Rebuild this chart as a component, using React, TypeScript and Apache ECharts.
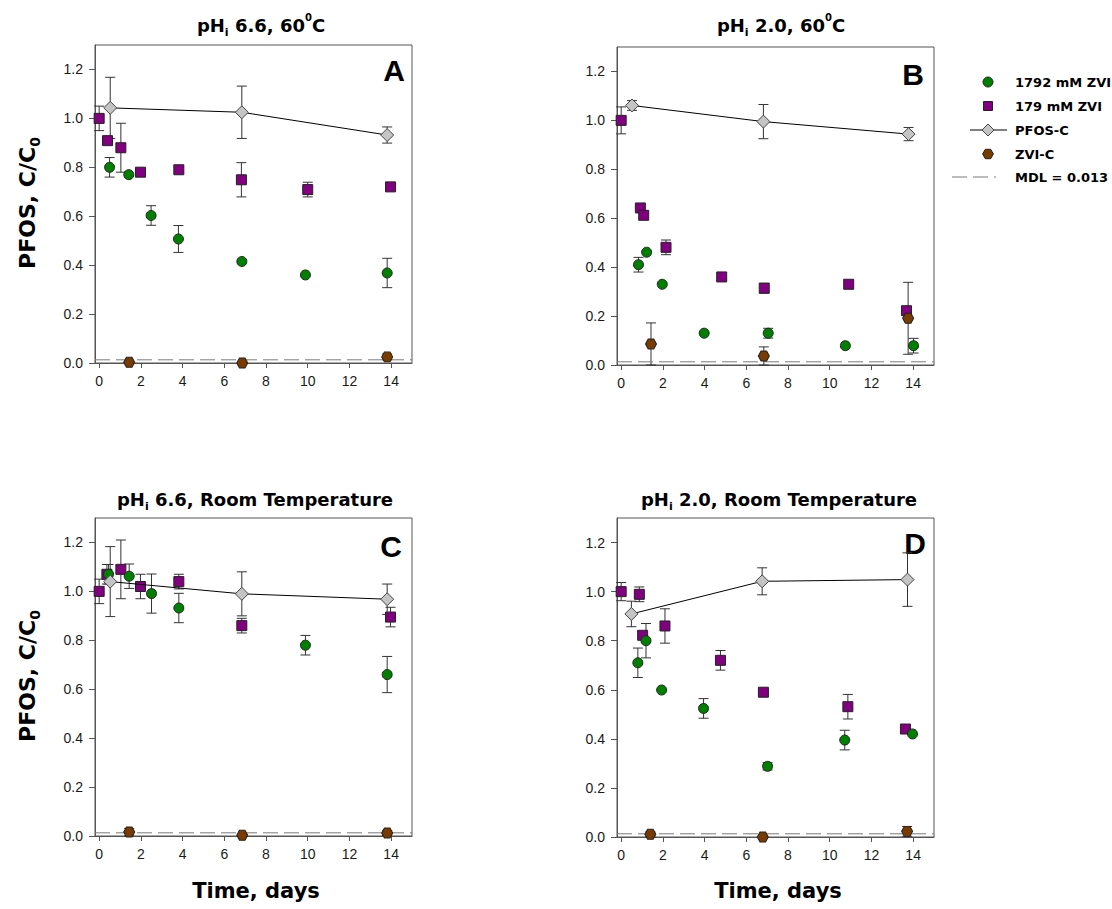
import React, { useEffect, useRef } from "react";
import * as echarts from "echarts";

// ---------- data: [time (days), C/C0, error] ----------
const A_1792 = [[0.5, 0.80, 0.04], [1.42, 0.77, 0], [2.49, 0.603, 0.04], [3.8, 0.507, 0.055], [6.84, 0.415, 0], [9.89, 0.36, 0], [13.81, 0.368, 0.06]];
const A_179 = [[0, 1.0, 0.05], [0.4, 0.909, 0], [1.04, 0.88, 0.1], [1.98, 0.78, 0], [3.82, 0.79, 0.01], [6.82, 0.749, 0.07], [10.0, 0.709, 0.03], [13.97, 0.72, 0]];
const A_PFOSC = [[0.53, 1.043, 0.125], [6.84, 1.025, 0.107], [13.81, 0.932, 0.033]];
const A_ZVIC = [[1.44, 0.003, 0], [6.86, 0.0, 0], [13.81, 0.025, 0.012]];

const B_1792 = [[0.83, 0.41, 0.03], [1.22, 0.461, 0], [1.97, 0.33, 0], [3.98, 0.13, 0], [7.05, 0.13, 0.02], [10.75, 0.079, 0], [14.02, 0.079, 0.03]];
const B_179 = [[0, 1.0, 0.055], [0.92, 0.642, 0], [1.08, 0.612, 0], [2.15, 0.481, 0.03], [4.82, 0.36, 0], [6.86, 0.314, 0.02], [10.91, 0.33, 0], [13.68, 0.222, 0]];
const B_PFOSC = [[0.52, 1.061, 0.02], [6.82, 0.995, 0.07], [13.78, 0.944, 0.027]];
const B_ZVIC = [[1.43, 0.086, 0.086], [6.84, 0.037, 0.037], [13.76, 0.191, 0.147]];

const C_1792 = [[0.45, 1.07, 0.04], [1.44, 1.062, 0.05], [2.51, 0.991, 0.08], [3.82, 0.932, 0.06], [9.89, 0.78, 0.04], [13.81, 0.66, 0.074]];
const C_179 = [[0, 1.0, 0.05], [0.37, 1.07, 0.04], [1.04, 1.09, 0.12], [1.98, 1.02, 0.05], [3.82, 1.04, 0.03], [6.84, 0.86, 0.03], [13.97, 0.895, 0.04]];
const C_PFOSC = [[0.53, 1.04, 0.143], [6.84, 0.99, 0.09], [13.81, 0.968, 0.062]];
const C_ZVIC = [[1.44, 0.016, 0.015], [6.86, 0.003, 0], [13.81, 0.012, 0.01]];

const D_1792 = [[0.8, 0.71, 0.06], [1.19, 0.80, 0.07], [1.94, 0.599, 0], [3.95, 0.524, 0.04], [7.02, 0.288, 0.015], [10.72, 0.395, 0.04], [13.97, 0.42, 0]];
const D_179 = [[0, 1.0, 0.037], [0.87, 0.989, 0.03], [1.03, 0.822, 0], [2.1, 0.86, 0.07], [4.76, 0.72, 0.04], [6.82, 0.59, 0.015], [10.87, 0.531, 0.05], [13.63, 0.44, 0]];
const D_PFOSC = [[0.49, 0.909, 0.052], [6.76, 1.042, 0.055], [13.73, 1.049, 0.109]];
const D_ZVIC = [[1.4, 0.011, 0.01], [6.79, 0.0, 0], [13.71, 0.023, 0.02]];

const MDL = 0.013;
const X_TICKS = [0, 2, 4, 6, 8, 10, 12, 14];
const Y_TICKS = [0, 0.2, 0.4, 0.6, 0.8, 1.0, 1.2];
const X_RANGE = [-0.2, 15];
const Y_RANGE = [0, 1.3];

const PANEL_LETTERS = ["A", "B", "C", "D"];
const PANEL_PH = ["6.6", "2.0", "6.6", "2.0"];
const PANEL_TEMP = ["60", "60", "Room Temperature", "Room Temperature"];
const LEGEND_LABELS = ["1792 mM ZVI", "179 mM ZVI", "PFOS-C", "ZVI-C", "MDL = 0.013"];
const X_TITLE = "Time, days";

const PANELS = [
  { g: A_1792, p: A_179, c: A_PFOSC, z: A_ZVIC },
  { g: B_1792, p: B_179, c: B_PFOSC, z: B_ZVIC },
  { g: C_1792, p: C_179, c: C_PFOSC, z: C_ZVIC },
  { g: D_1792, p: D_179, c: D_PFOSC, z: D_ZVIC },
];

// ---------- layout ----------
const GRIDS = [
  { left: 95, top: 45, width: 317, height: 318 },
  { left: 617, top: 47, width: 317, height: 318 },
  { left: 95, top: 518, width: 317, height: 318 },
  { left: 617, top: 518, width: 317, height: 319 },
];
const TITLE_POS = [[261, 25], [781, 25], [255, 499], [779, 499]];
const LETTER_POS = [[394, 70], [913, 74], [391, 546], [915, 543]];
const YTITLE_POS = [[27, 203], [27, 676]];
const XTITLE_POS = [[256, 891], [778, 891]];

const GREEN = "#008000";
const PURPLE = "#800080";
const BROWN = "#7a3b00";
const GRAY = "#c4c4c4";
const EDGE = "#222";
const BOLD_FONT = "DejaVu Sans";
const TICK_FONT = "Liberation Sans, Arial";
const HEX = "path://M2.5,0 L7.5,0 L10,4.33 L7.5,8.66 L2.5,8.66 L0,4.33 Z";

function errRender(params: any, api: any) {
  const x = api.value(0);
  const y = api.value(1);
  const e = api.value(2);
  const top = api.coord([x, y + e]);
  const bot = api.coord([x, y - e]);
  const w = 5;
  const st = { stroke: "#333", lineWidth: 1 };
  return {
    type: "group",
    children: [
      { type: "line", shape: { x1: top[0], y1: top[1], x2: bot[0], y2: bot[1] }, style: st },
      { type: "line", shape: { x1: top[0] - w, y1: top[1], x2: top[0] + w, y2: top[1] }, style: st },
      { type: "line", shape: { x1: bot[0] - w, y1: bot[1], x2: bot[0] + w, y2: bot[1] }, style: st },
    ],
  };
}

function buildOption() {
  const series: any[] = [];
  PANELS.forEach((pn, i) => {
    const errs = [...pn.g, ...pn.p, ...pn.c, ...pn.z].filter((d) => d[2] > 0);
    series.push({
      type: "custom",
      xAxisIndex: i,
      yAxisIndex: i,
      renderItem: errRender,
      data: errs,
      z: 1,
      silent: true,
    });
    series.push({
      type: "line",
      xAxisIndex: i,
      yAxisIndex: i,
      data: [[X_RANGE[0], MDL], [X_RANGE[1], MDL]],
      symbol: "none",
      lineStyle: { color: "#7a7a7a", width: 1, type: [15, 6] },
      z: 1,
      silent: true,
    });
    series.push({
      name: "179 mM ZVI",
      type: "scatter",
      xAxisIndex: i,
      yAxisIndex: i,
      symbol: "rect",
      symbolSize: 10,
      data: pn.p.map((d) => [d[0], d[1]]),
      itemStyle: { color: PURPLE, borderColor: EDGE, borderWidth: 1, opacity: 1 },
      z: 3,
    });
    series.push({
      name: "1792 mM ZVI",
      type: "scatter",
      xAxisIndex: i,
      yAxisIndex: i,
      symbol: "circle",
      symbolSize: 10,
      data: pn.g.map((d) => [d[0], d[1]]),
      itemStyle: { color: GREEN, borderColor: EDGE, borderWidth: 1, opacity: 1 },
      z: 4,
    });
    series.push({
      name: "PFOS-C",
      type: "line",
      xAxisIndex: i,
      yAxisIndex: i,
      symbol: "diamond",
      symbolSize: 13,
      showAllSymbol: true,
      data: pn.c.map((d) => [d[0], d[1]]),
      lineStyle: { color: "#000", width: 1 },
      itemStyle: { color: GRAY, borderColor: "#444", borderWidth: 1 },
      z: 5,
    });
    series.push({
      name: "ZVI-C",
      type: "scatter",
      xAxisIndex: i,
      yAxisIndex: i,
      symbol: HEX,
      symbolSize: [11, 10],
      data: pn.z.map((d) => [d[0], d[1]]),
      itemStyle: { color: BROWN, borderColor: EDGE, borderWidth: 1, opacity: 1 },
      z: 6,
    });
  });

  const axisColor = "#555";
  const xAxis = GRIDS.map((_, i) => ({
    type: "value",
    gridIndex: i,
    min: X_RANGE[0],
    max: X_RANGE[1],
    axisLine: { show: true, onZero: false, lineStyle: { color: axisColor, width: 1 } },
    axisTick: { show: true, length: 5, customValues: X_TICKS, lineStyle: { color: axisColor } },
    axisLabel: { customValues: X_TICKS, fontSize: 14, color: "#1a1a1a", margin: 11, fontFamily: TICK_FONT },
    splitLine: { show: false },
  }));
  const yAxis = GRIDS.map((_, i) => ({
    type: "value",
    gridIndex: i,
    min: Y_RANGE[0],
    max: Y_RANGE[1],
    axisLine: { show: true, onZero: false, lineStyle: { color: axisColor, width: 1 } },
    axisTick: { show: true, length: 6, customValues: Y_TICKS, lineStyle: { color: axisColor } },
    axisLabel: {
      customValues: Y_TICKS,
      fontSize: 14,
      color: "#1a1a1a",
      margin: 12,
      fontFamily: TICK_FONT,
      formatter: (v: number) => v.toFixed(1),
    },
    splitLine: { show: false },
  }));

  const richTitle = {
    b: { fontSize: 18, fontWeight: "bold", fontFamily: BOLD_FONT, lineHeight: 26, color: "#000" },
    s: { fontSize: 11, fontWeight: "bold", fontFamily: BOLD_FONT, lineHeight: 12, verticalAlign: "bottom", color: "#000" },
    p: { fontSize: 10, fontWeight: "bold", fontFamily: BOLD_FONT, lineHeight: 17, verticalAlign: "top", color: "#000" },
  };

  const graphic: any[] = [];
  PANEL_LETTERS.forEach((L, i) => {
    const temp = PANEL_TEMP[i];
    const text =
      temp === "60"
        ? `{b|pH}{s|i}{b| ${PANEL_PH[i]}, 60}{p|0}{b|C}`
        : `{b|pH}{s|i}{b| ${PANEL_PH[i]}, ${temp}}`;
    graphic.push({
      type: "text",
      x: TITLE_POS[i][0],
      y: TITLE_POS[i][1],
      style: { text, rich: richTitle, align: "center", verticalAlign: "middle" },
    });
    graphic.push({
      type: "text",
      x: LETTER_POS[i][0],
      y: LETTER_POS[i][1],
      style: {
        text: L,
        fill: "#000",
        font: `bold 30px ${TICK_FONT}`,
        align: "center",
        verticalAlign: "middle",
      },
    });
  });

  const richAxis = {
    b: { fontSize: 22, fontWeight: "bold", fontFamily: BOLD_FONT, lineHeight: 30, color: "#000" },
    s: { fontSize: 14, fontWeight: "bold", fontFamily: BOLD_FONT, lineHeight: 14, verticalAlign: "bottom", color: "#000" },
  };
  YTITLE_POS.forEach((p) => {
    graphic.push({
      type: "text",
      x: p[0],
      y: p[1],
      rotation: Math.PI / 2,
      style: { text: "{b|PFOS, C/C}{s|0}", rich: richAxis, align: "center", verticalAlign: "middle" },
    });
  });
  XTITLE_POS.forEach((p) => {
    graphic.push({
      type: "text",
      x: p[0],
      y: p[1],
      style: {
        text: X_TITLE,
        fill: "#000",
        font: `bold 21px ${BOLD_FONT}`,
        align: "center",
        verticalAlign: "middle",
      },
    });
  });

  // legend
  const lx = 988;
  const tx = 1015;
  const rows = [82, 106, 130, 154, 177];
  const lfont = `bold 13px ${BOLD_FONT}`;
  LEGEND_LABELS.forEach((lab, k) => {
    graphic.push({
      type: "text",
      x: tx,
      y: rows[k],
      style: { text: lab, fill: "#000", font: lfont, align: "left", verticalAlign: "middle" },
    });
  });
  graphic.push({
    type: "circle",
    shape: { cx: lx, cy: rows[0], r: 5 },
    style: { fill: GREEN, stroke: EDGE, lineWidth: 1 },
  });
  graphic.push({
    type: "rect",
    shape: { x: lx - 4.5, y: rows[1] - 4.5, width: 9, height: 9 },
    style: { fill: PURPLE, stroke: EDGE, lineWidth: 1 },
  });
  graphic.push({
    type: "line",
    shape: { x1: 970, y1: rows[2], x2: 1007, y2: rows[2] },
    style: { stroke: "#000", lineWidth: 1 },
  });
  graphic.push({
    type: "polygon",
    shape: { points: [[lx, rows[2] - 6], [lx + 6, rows[2]], [lx, rows[2] + 6], [lx - 6, rows[2]]] },
    style: { fill: GRAY, stroke: "#444", lineWidth: 1 },
  });
  graphic.push({
    type: "polygon",
    shape: {
      points: [
        [lx - 2.7, rows[3] - 4.7],
        [lx + 2.7, rows[3] - 4.7],
        [lx + 5.4, rows[3]],
        [lx + 2.7, rows[3] + 4.7],
        [lx - 2.7, rows[3] + 4.7],
        [lx - 5.4, rows[3]],
      ],
    },
    style: { fill: BROWN, stroke: EDGE, lineWidth: 1 },
  });
  graphic.push({
    type: "line",
    shape: { x1: 952, y1: rows[4], x2: 996, y2: rows[4] },
    style: { stroke: "#7a7a7a", lineWidth: 1, lineDash: [15, 6] },
  });

  return {
    animation: false,
    backgroundColor: "#fff",
    grid: GRIDS.map((g) => ({ ...g, show: true, borderColor: "#555", borderWidth: 1, backgroundColor: "transparent" })),
    xAxis,
    yAxis,
    series,
    graphic,
  };
}

export default function App() {
  const ref = useRef<HTMLDivElement>(null);
  useEffect(() => {
    document.body.style.margin = "0";
    if (!ref.current) return;
    const chart = echarts.init(ref.current, null, { renderer: "svg" });
    chart.setOption(buildOption() as any);
    return () => chart.dispose();
  }, []);
  return <div ref={ref} style={{ position: "absolute", left: 0, top: 0, width: 1112, height: 909 }} />;
}
